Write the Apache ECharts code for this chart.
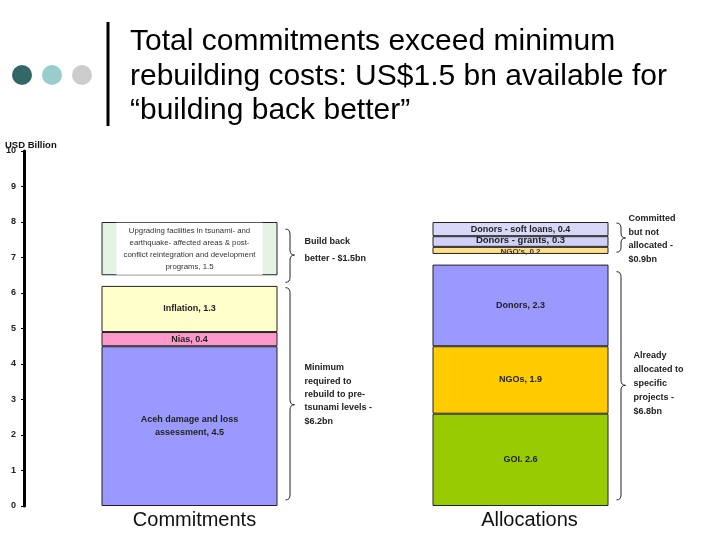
<!DOCTYPE html>
<html><head><meta charset="utf-8">
<script src="https://cdn.jsdelivr.net/npm/echarts@6/dist/echarts.min.js"></script>
<style>html,body{margin:0;padding:0;background:#fff}#c{width:720px;height:540px}</style>
</head><body><div id="c"></div>
<script>
// ---- data ----
const categories = ['Commitments', 'Allocations'];
const yMin = 0, yMax = 10, yStep = 1;
const acehDamage     = [4.5, '-'];
const nias           = [0.4, '-'];
const inflation      = [1.3, '-'];
const goi            = ['-', 2.6];
const ngos           = ['-', 1.9];
const donors         = ['-', 2.3];
const spacer         = [0.3, 0.3];
const upgrading      = [1.5, '-'];
const ngosUnalloc    = ['-', 0.2];
const donorsGrants   = ['-', 0.3];
const donorsSoftLoan = ['-', 0.4];
const titleLines = ['Total commitments exceed minimum', 'rebuilding costs: US$1.5 bn available for', '\u201Cbuilding back better\u201D'];
// annotations: category index, brace range (values), tip value, text centre value, text
const annotations = [
  {cat: 0, from: 7.8, to: 6.3, tip: 7.07, textAt: 7.22, lh: 17, dx: 19, text: ['Build back', 'better - $1.5bn']},
  {cat: 0, from: 6.15, to: 0.17, tip: 2.85, textAt: 3.14, lh: 13.4, dx: 19, text: ['Minimum', 'required to', 'rebuild to pre-', 'tsunami levels -', '$6.2bn']},
  {cat: 1, from: 7.97, to: 7.15, tip: 7.55, textAt: 7.52, lh: 13.4, dx: 12, text: ['Committed', 'but not', 'allocated -', '$0.9bn']},
  {cat: 1, from: 6.6, to: 0.17, tip: 3.4, textAt: 3.45, lh: 13.8, dx: 17, text: ['Already', 'allocated to', 'specific', 'projects -', '$6.8bn']}
];

const FONT = "'Liberation Sans', Arial, sans-serif";
const BAR_W = 176;
const lbl = (fmt, extra) => Object.assign({
  show: true, position: 'inside', fontFamily: FONT, fontSize: 9, fontWeight: 'bold', color: '#222',
  formatter: p => fmt(p.value)
}, extra || {});
const seg = (name, data, color, label) => ({
  name, type: 'bar', stack: 'total', data, barWidth: BAR_W,
  itemStyle: {color, borderColor: '#222', borderWidth: 1},
  label, emphasis: {disabled: true}
});

const chart = echarts.init(document.getElementById('c'), null, {renderer: 'canvas'});
chart.setOption({
  animation: false,
  backgroundColor: '#fff',
  grid: {left: 24, right: 34, top: 151, bottom: 34},
  xAxis: {
    type: 'category', data: categories,
    axisLine: {show: false}, axisTick: {show: false},
    axisLabel: {fontFamily: FONT, fontSize: 20, color: '#111', margin: 4,
      formatter: (v, i) => `{c${i}|${v}}`,
      rich: {c0: {fontFamily: FONT, fontSize: 20, color: '#111', padding: [0, 0, 0, 10]},
             c1: {fontFamily: FONT, fontSize: 20, color: '#111', padding: [0, 0, 0, 18]}}}
  },
  yAxis: {
    type: 'value', min: yMin, max: yMax, interval: yStep,
    splitLine: {show: false},
    axisLine: {show: true, lineStyle: {color: '#000', width: 3}},
    axisTick: {show: true, length: 3, lineStyle: {color: '#000', width: 1}},
    axisLabel: {fontFamily: FONT, fontSize: 9, fontWeight: 'bold', color: '#222', margin: 8}
  },
  series: [
    seg('Aceh', acehDamage, '#9999FF', lbl(v => 'Aceh damage and loss\nassessment, ' + v, {lineHeight: 13})),
    seg('Nias', nias, '#FF99CC', lbl(v => 'Nias, ' + v)),
    seg('Inflation', inflation, '#FFFFCC', lbl(v => 'Inflation, ' + v)),
    seg('GOI', goi, '#99CC00', lbl(v => 'GOI. ' + v)),
    seg('NGOs', ngos, '#FFCC00', lbl(v => 'NGOs, ' + v)),
    seg('Donors', donors, '#9999FF', lbl(v => 'Donors, ' + v)),
    {name: 'gap', type: 'bar', stack: 'total', data: spacer, barWidth: BAR_W, silent: true,
     itemStyle: {color: 'rgba(0,0,0,0)', borderWidth: 0}, label: {show: false}},
    seg('Upgrading', upgrading, '#E4F4E4', lbl(v => 'Upgrading facilities in tsunami- and\nearthquake- affected areas & post-\nconflict reintegration and development\nprograms, ' + v,
        {fontSize: 7.8, fontWeight: 'normal', color: '#333', lineHeight: 12, backgroundColor: '#fff', padding: [2, 4], width: 138})),
    seg("NGO's", ngosUnalloc, '#FFE08A', lbl(v => "NGO's, " + v, {fontSize: 8, color: '#333', offset: [0, 1]})),
    seg('Grants', donorsGrants, '#D0D0F8', lbl(v => 'Donors - grants, ' + v, {fontSize: 9.5, offset: [0, -1]})),
    seg('Soft loans', donorsSoftLoan, '#D8D8F8', lbl(v => 'Donors - soft loans, ' + v))
  ]
});

// ---- annotations (positioned from axis scales) ----
function brace(x, y1, y2, ym, w) {
  const h = w / 2, r = 5, st = {stroke: '#222', lineWidth: 1, fill: 'none'};
  return [
    {type: 'bezierCurve', shape: {x1: x, y1: y1, cpx1: x + h, cpy1: y1, x2: x + h, y2: y1 + r}, style: st},
    {type: 'line', shape: {x1: x + h, y1: y1 + r, x2: x + h, y2: ym - r}, style: st},
    {type: 'bezierCurve', shape: {x1: x + h, y1: ym - r, cpx1: x + h, cpy1: ym, x2: x + w, y2: ym}, style: st},
    {type: 'bezierCurve', shape: {x1: x + w, y1: ym, cpx1: x + h, cpy1: ym, x2: x + h, y2: ym + r}, style: st},
    {type: 'line', shape: {x1: x + h, y1: ym + r, x2: x + h, y2: y2 - r}, style: st},
    {type: 'bezierCurve', shape: {x1: x + h, y1: y2 - r, cpx1: x + h, cpy1: y2, x2: x, y2: y2}, style: st}
  ];
}
const g = [];
// title decoration
[['#336666', 22], ['#99CCCC', 52], ['#CCCCCC', 82]].forEach(([c, x]) =>
  g.push({type: 'circle', shape: {cx: x, cy: 75, r: 10}, style: {fill: c}}));
g.push({type: 'rect', shape: {x: 106.5, y: 22, width: 3, height: 104}, style: {fill: '#000'}});
titleLines.forEach((t, i) => g.push({type: 'text', style: {
  text: t, x: 130, y: 42 + i * 34.5, font: `30px ${FONT}`, fill: '#000',
  textAlign: 'left', textVerticalAlign: 'middle'}}));
// axis title
g.push({type: 'text', style: {text: 'USD Billion', x: 5, y: 145, font: `bold 9.5px ${FONT}`, fill: '#111',
  textAlign: 'left', textVerticalAlign: 'middle'}});
annotations.forEach(a => {
  const cx = chart.convertToPixel({xAxisIndex: 0}, categories[a.cat]);
  const bx = cx + BAR_W / 2 + 8;
  const y1 = chart.convertToPixel({yAxisIndex: 0}, a.from);
  const y2 = chart.convertToPixel({yAxisIndex: 0}, a.to);
  const ym = chart.convertToPixel({yAxisIndex: 0}, a.tip);
  brace(bx, y1, y2, ym, 9).forEach(e => g.push(e));
  const tc = chart.convertToPixel({yAxisIndex: 0}, a.textAt);
  const n = a.text.length;
  a.text.forEach((t, i) => g.push({type: 'text', style: {
    text: t, x: bx + a.dx, y: tc + (i - (n - 1) / 2) * a.lh, font: `bold 9px ${FONT}`, fill: '#222',
    textAlign: 'left', textVerticalAlign: 'middle'}}));
});
chart.setOption({graphic: {elements: g}});
</script></body></html>
